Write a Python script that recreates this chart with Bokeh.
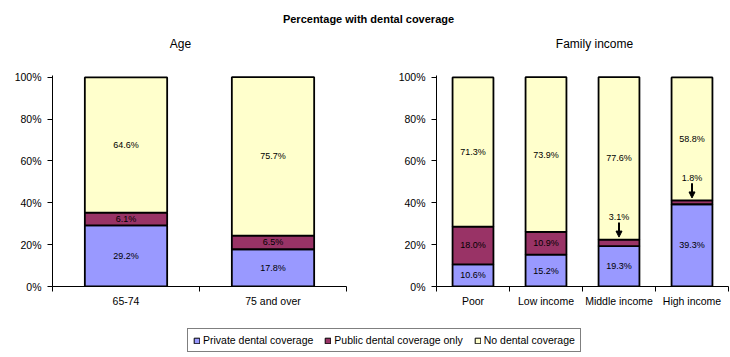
from bokeh.plotting import figure
from bokeh.layouts import column, row
from bokeh.models import (ColumnDataSource, Range1d, FixedTicker, PrintfTickFormatter,
                          Legend, LegendItem, Arrow, NormalHead)
from bokeh.core.properties import value
from bokeh.embed import file_html
from bokeh.resources import INLINE

# ---------------- data ----------------
title_text = "Percentage with dental coverage"
series_names = ["Private dental coverage", "Public dental coverage only", "No dental coverage"]
series_colors = ["#9999FF", "#993366", "#FFFFCC"]

age_title = "Age"
age_cats = ["65-74", "75 and over"]
age_private = [29.2, 17.8]
age_public = [6.1, 6.5]
age_none = [64.6, 75.7]

inc_title = "Family income"
inc_cats = ["Poor", "Low income", "Middle income", "High income"]
inc_private = [10.6, 15.2, 19.3, 39.3]
inc_public = [18.0, 10.9, 3.1, 1.8]
inc_none = [71.3, 73.9, 77.6, 58.8]

y_ticks = [0, 20, 40, 60, 80, 100]

FONT = "Liberation Sans"
W = 730
HEADER_H = 65
ROW_H = 251
LEG_H = 40


def panel(cats, private, public, none, width, border_left, border_right):
    n = len(cats)
    xs = [i + 0.5 for i in range(n)]
    p = figure(width=width, height=ROW_H, output_backend="svg", toolbar_location=None,
               x_range=Range1d(0, n), y_range=Range1d(0, 100.8),
               min_border_left=border_left, min_border_right=border_right,
               min_border_top=10, min_border_bottom=30)
    p.outline_line_color = None
    p.xgrid.visible = False
    p.ygrid.visible = False
    p.background_fill_color = "white"

    src = ColumnDataSource(dict(x=xs, private=private, public=public, none=none))
    p.vbar_stack(["private", "public", "none"], x="x", width=0.56, source=src,
                 fill_color=series_colors, line_color="black", line_width=1.8)

    # data labels
    lx, ly, lt = [], [], []
    ax, ays, aye = [], [], []
    ox, oy, ot = [], [], []
    for i in range(n):
        base = 0.0
        for v in (private[i], public[i], none[i]):
            top = base + v
            if v >= 5:
                lx.append(xs[i]); ly.append(base + v / 2); lt.append(f"{v:.1f}%")
            else:
                ox.append(xs[i]); oy.append(top + 10.7); ot.append(f"{v:.1f}%")
                ax.append(xs[i]); ays.append(top + 8.2); aye.append(top + 1.2)
            base = top
    p.text(x=lx, y=ly, text=lt, text_align="center", text_baseline="middle",
           text_font=value(FONT), text_font_size=value("9px"), text_color="black")
    if ox:
        p.text(x=ox, y=oy, text=ot, text_align="center", text_baseline="middle",
               text_font=value(FONT), text_font_size=value("9px"), text_color="black")
        asrc = ColumnDataSource(dict(x=ax, ys=ays, ye=aye))
        p.add_layout(Arrow(end=NormalHead(size=6, fill_color="black", line_color="black"),
                           x_start="x", y_start="ys", x_end="x", y_end="ye",
                           line_width=2, line_color="black", source=asrc))

    # axes
    xa = p.xaxis[0]
    xa.ticker = FixedTicker(ticks=xs, minor_ticks=list(range(n + 1)))
    xa.major_label_overrides = {x: c for x, c in zip(xs, cats)}
    xa.major_tick_line_color = None
    xa.major_tick_out = 0
    xa.major_tick_in = 0
    xa.minor_tick_line_color = "black"
    xa.minor_tick_out = 5
    xa.minor_tick_in = 0
    xa.major_label_standoff = 3
    xa.axis_line_color = "black"
    xa.major_label_text_font = FONT
    xa.major_label_text_font_size = "10.5px"
    xa.major_label_text_color = "black"

    ya = p.yaxis[0]
    ya.ticker = FixedTicker(ticks=y_ticks)
    ya.formatter = PrintfTickFormatter(format="%d%%")
    ya.major_tick_out = 5
    ya.major_tick_in = 0
    ya.minor_tick_line_color = None
    ya.major_tick_line_color = "black"
    ya.axis_line_color = "black"
    ya.major_label_standoff = 6
    ya.major_label_text_font = FONT
    ya.major_label_text_font_size = "10.5px"
    ya.major_label_text_color = "black"
    return p


# ---------------- header ----------------
header = figure(width=W, height=HEADER_H, output_backend="svg", toolbar_location=None,
                x_range=Range1d(0, W), y_range=Range1d(HEADER_H, 0),
                x_axis_location=None, y_axis_location=None,
                min_border=0)
header.outline_line_color = None
header.xgrid.visible = False
header.ygrid.visible = False
header.text(x=[368], y=[18], text=[title_text], text_align="center", text_baseline="middle",
            text_font=value(FONT), text_font_size=value("11px"), text_font_style="bold",
            text_color="black")
header.text(x=[180, 594], y=[43, 43], text=[age_title, inc_title], text_align="center",
            text_baseline="middle", text_font=value(FONT), text_font_size=value("12px"),
            text_color="black")

p1 = panel(age_cats, age_private, age_public, age_none, 365, 52, 19)
p2 = panel(inc_cats, inc_private, inc_public, inc_none, 365, 71, 2)

# ---------------- legend ----------------
lf = figure(width=W, height=LEG_H, output_backend="svg", toolbar_location=None,
            x_range=Range1d(10, 11), y_range=Range1d(10, 11),
            x_axis_location=None, y_axis_location=None, min_border=0)
lf.outline_line_color = None
lf.xgrid.visible = False
lf.ygrid.visible = False
items = []
for name, col in zip(series_names, series_colors):
    r = lf.vbar(x=[0], top=[1], width=0.5, fill_color=col, line_color="black", line_width=1)
    items.append(LegendItem(label=name, renderers=[r]))
leg = Legend(items=items, orientation="horizontal", location=(187, 4),
             glyph_width=7, glyph_height=7, label_height=11, label_standoff=3,
             spacing=11, padding=5, margin=0,
             border_line_color="black", border_line_width=1,
             label_text_font=FONT, label_text_font_size="10.5px", label_text_color="black",
             background_fill_color="white", background_fill_alpha=1)
lf.add_layout(leg)

layout = column(header, row(p1, p2), lf)

open("out.html", "w").write(file_html(layout, INLINE))
